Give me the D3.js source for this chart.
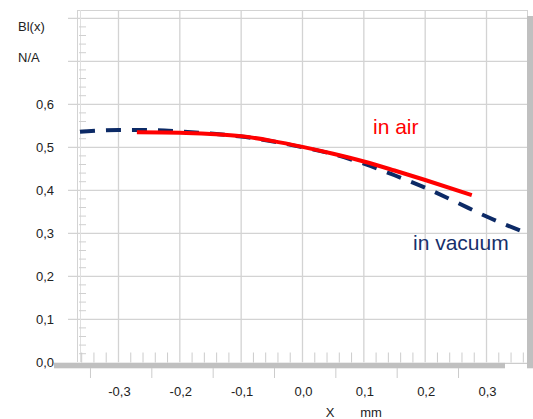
<!DOCTYPE html>
<html><head><meta charset="utf-8">
<script src="https://cdn.jsdelivr.net/npm/d3@7"></script>
<style>body{margin:0;background:#fff}svg{display:block}text{font-family:"Liberation Sans",Arial,sans-serif}</style>
</head><body><svg id="c" width="533" height="419"></svg>
<script>
const vacX  = [-0.366,-0.3,-0.25,-0.2,-0.15,-0.1,-0.05,0,0.05,0.1,0.15,0.2,0.25,0.3,0.366];
const vacBl = [0.536,0.540,0.540,0.537,0.532,0.525,0.514,0.500,0.484,0.462,0.435,0.406,0.373,0.339,0.300];
const airX  = [-0.27,-0.2,-0.15,-0.1,-0.05,0,0.05,0.1,0.15,0.2,0.276];
const airBl = [0.535,0.534,0.531,0.526,0.515,0.501,0.485,0.467,0.446,0.424,0.389];
const xTicks = [-0.3,-0.2,-0.1,0.0,0.1,0.2,0.3];
const yTicks = [0.0,0.1,0.2,0.3,0.4,0.5,0.6];
const yGrid = [0.1,0.2,0.3,0.4,0.5,0.6,0.7,0.8];
const fmt = v => v.toFixed(1).replace('.', ',');

const svg = d3.select('#c');
const x = d3.scaleLinear().domain([-0.366,0.366]).range([78,527]);
const y = d3.scaleLinear().domain([0,0.8]).range([362.3,18.3]);
const grid = '#d3d3d3', axisGray = '#c0c0c0';

// top border
svg.append('line').attr('x1',78).attr('x2',527).attr('y1',10.5).attr('y2',10.5).attr('stroke',grid);
// vertical grid
svg.selectAll('.vg').data(xTicks).join('line')
  .attr('x1',d=>x(d)).attr('x2',d=>x(d)).attr('y1',10).attr('y2',362.3)
  .attr('stroke',grid).attr('stroke-width',1.3);
// horizontal grid (extends left)
svg.selectAll('.hg').data(yGrid).join('line')
  .attr('x1',68).attr('x2',527).attr('y1',d=>y(d)).attr('y2',d=>y(d))
  .attr('stroke',grid).attr('stroke-width',1.3);
// y-axis double line
svg.append('line').attr('x1',77.5).attr('x2',77.5).attr('y1',10).attr('y2',362).attr('stroke',grid);
svg.append('line').attr('x1',80.5).attr('x2',80.5).attr('y1',10).attr('y2',362).attr('stroke','#e0e0e0');
// y minor ticks
const yMinor = d3.range(0,0.82,0.02).filter(v=>Math.abs(v*10-Math.round(v*10))>1e-6);
svg.selectAll('.ym').data(yMinor).join('line')
  .attr('x1',79).attr('x2',86).attr('y1',d=>y(d)).attr('y2',d=>y(d)).attr('stroke','#d0d0d0');
// x minor ticks
const xMinor = d3.range(-0.36,0.37,0.02).filter(v=>Math.abs(v*10-Math.round(v*10))>1e-6);
svg.selectAll('.xm').data(xMinor).join('line')
  .attr('x1',d=>x(d)).attr('x2',d=>x(d)).attr('y1',352.5).attr('y2',362.5).attr('stroke','#cccccc');
// bottom thick bar
svg.append('rect').attr('x',54).attr('y',362.7).attr('width',451).attr('height',5.6).attr('fill',axisGray);
svg.append('line').attr('x1',505).attr('x2',527).attr('y1',363.3).attr('y2',363.3).attr('stroke',axisGray);
// right thick bar
svg.append('rect').attr('x',527).attr('y',16).attr('width',6).attr('height',352.3).attr('fill',axisGray);
svg.append('line').attr('x1',527.5).attr('x2',527.5).attr('y1',10).attr('y2',16).attr('stroke',grid);
// offset major ticks under bar
svg.selectAll('.xt').data(xTicks).join('line')
  .attr('x1',d=>x(d)-28).attr('x2',d=>x(d)-28).attr('y1',368).attr('y2',378)
  .attr('stroke','#cccccc');

// tick labels
svg.selectAll('.xl').data(xTicks).join('text')
  .attr('x',d=>x(d)+1).attr('y',396).attr('text-anchor','middle')
  .attr('font-size',13).attr('fill','#222').text(fmt);
svg.selectAll('.yl').data(yTicks).join('text')
  .attr('x',54).attr('y',d=>y(d)+4.7).attr('text-anchor','end')
  .attr('font-size',13).attr('fill','#222').text(fmt);

// axis titles
svg.append('text').attr('x',18).attr('y',31).attr('font-size',13).attr('fill','#222').text('Bl(x)');
svg.append('text').attr('x',18).attr('y',61.5).attr('font-size',13).attr('fill','#222').text('N/A');
svg.append('text').attr('x',330).attr('y',417).attr('text-anchor','middle').attr('font-size',13).attr('fill','#222').text('X');
svg.append('text').attr('x',371).attr('y',417).attr('text-anchor','middle').attr('font-size',13).attr('fill','#222').text('mm');

// curves
const line = d3.line().x(d=>x(d[0])).y(d=>y(d[1])).curve(d3.curveMonotoneX);
const vac = vacX.map((v,i)=>[v,vacBl[i]]);
const air = airX.map((v,i)=>[v,airBl[i]]);
svg.append('path').attr('d',line(vac)).attr('fill','none')
  .attr('stroke','#0c2a66').attr('stroke-width',4).attr('stroke-dasharray','15,11').attr('stroke-dashoffset',-2);
svg.append('path').attr('d',line(air)).attr('fill','none')
  .attr('stroke','#ff0000').attr('stroke-width',4);

// labels
svg.append('text').attr('x',373).attr('y',134).attr('font-size',21).attr('fill','#ff0000').text('in air');
svg.append('text').attr('x',413).attr('y',250).attr('font-size',21).attr('fill','#17306b').text('in vacuum');
</script></body></html>
